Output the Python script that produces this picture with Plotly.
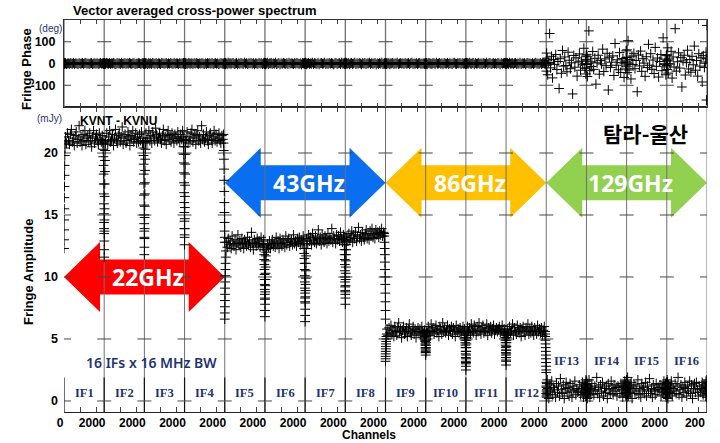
import plotly.graph_objects as go

# ---------------------------------------------------------------- data
IF_SPAN = 2500  # channel axis span allotted to each IF panel

# sampled channel positions inside every IF (amplitude: denser at the band edges)
AMP_CHANNELS = [0, 4, 8, 12, 17, 22, 28, 35, 43, 52, 62, 75,
                100, 160, 220, 280, 340, 400, 460, 520, 580, 640, 700, 760, 820, 880, 940, 1000,
                1060, 1120, 1180, 1240, 1300, 1360, 1420, 1480, 1540, 1600, 1660, 1720, 1780,
                1840, 1900, 1960, 2020, 2080, 2140, 2200, 2260, 2320, 2380, 2420,
                2425, 2438, 2448, 2457, 2465, 2472, 2478, 2484, 2489, 2493, 2497, 2500]
PH_CHANNELS = [0, 12, 25, 40, 60, 90, 150, 210, 270, 330, 390, 450, 520, 590, 660,
               730, 800, 870, 940, 1010, 1080, 1150, 1220, 1290, 1360, 1430, 1500,
               1570, 1640, 1710, 1780, 1850, 1920, 1990, 2060, 2130, 2200, 2270,
               2340, 2400, 2440, 2465, 2485, 2500]

IF_NAMES = ["IF1", "IF2", "IF3", "IF4", "IF5", "IF6", "IF7", "IF8",
            "IF9", "IF10", "IF11", "IF12", "IF13", "IF14", "IF15", "IF16"]

# fringe amplitude (mJy) per IF
AMP_IF1 = [12.3, 13.0, 13.8, 14.6, 15.5, 16.4, 17.3, 18.2, 19.0, 19.8, 20.4, 20.9,
           21.3, 20.8, 21.6, 21.0, 20.7, 21.5, 21.9, 20.9, 21.2, 20.6, 21.4, 21.7, 20.8, 21.1, 22.2, 20.9,
           21.3, 20.6, 21.5, 21.0, 21.8, 20.7, 21.2, 21.4, 20.9, 21.6, 21.0, 20.5, 21.3, 21.8, 20.8, 21.2,
           21.5, 21.0, 20.7, 21.6, 21.1, 20.9, 21.4, 21.0,
           20.8, 20.3, 19.7, 19.0, 18.3, 17.5, 16.7, 15.9, 15.1, 14.4, 13.9, 13.5]
AMP_IF2 = [11.6, 12.2, 12.9, 13.7, 14.6, 15.5, 16.5, 17.5, 18.5, 19.4, 20.2, 20.8,
           21.0, 21.6, 20.7, 21.3, 21.8, 20.9, 21.1, 21.5, 20.6, 21.2, 21.9, 21.0, 20.8, 21.4, 21.6, 20.9,
           21.3, 22.1, 20.7, 21.2, 21.5, 20.8, 21.0, 21.7, 21.3, 20.6, 21.4, 21.1, 21.8, 20.9, 21.2, 21.6,
           20.8, 21.3, 20.9, 21.5, 21.0, 21.7, 20.8, 21.2,
           20.9, 20.4, 19.8, 19.1, 18.3, 17.5, 16.6, 15.8, 15.0, 14.3, 13.7, 13.2]
AMP_IF3 = [11.8, 12.4, 13.1, 13.9, 14.8, 15.7, 16.7, 17.6, 18.6, 19.5, 20.3, 20.9,
           21.6, 20.9, 21.2, 21.8, 21.0, 21.4, 20.8, 21.7, 21.3, 21.0, 22.0, 21.5, 20.9, 21.2, 21.6, 21.1,
           20.8, 21.4, 21.9, 21.0, 21.3, 20.7, 21.5, 21.8, 21.1, 21.4, 20.9, 21.6, 21.2, 20.8, 21.5, 21.3,
           21.0, 21.7, 21.2, 20.9, 21.5, 21.1, 21.8, 21.3,
           21.0, 20.5, 19.9, 19.2, 18.4, 17.6, 16.8, 16.0, 15.2, 14.5, 13.9, 13.4]
AMP_IF4 = [12.6, 13.2, 13.9, 14.7, 15.6, 16.5, 17.4, 18.3, 19.1, 19.9, 20.5, 21.0,
           21.1, 21.7, 20.8, 21.3, 21.0, 21.6, 21.9, 20.9, 21.2, 21.5, 20.7, 21.4, 21.8, 21.0, 21.3, 20.8,
           22.2, 21.1, 21.5, 20.9, 21.2, 21.7, 21.0, 20.7, 21.4, 21.6, 21.1, 20.8, 21.3, 21.8, 21.0, 21.5,
           20.9, 21.2, 21.6, 21.0, 20.8, 21.4, 21.1, 21.5,
           20.8, 20.2, 19.5, 18.7, 17.8, 16.9, 16.0, 15.2, 14.4, 13.7, 13.2, 12.8]
AMP_IF5 = [6.6, 7.1, 7.6, 8.1, 8.6, 9.1, 9.6, 10.1, 10.6, 11.1, 11.6, 12.1,
           12.8, 12.4, 13.1, 12.6, 12.9, 12.3, 13.3, 12.7, 12.5, 13.0, 12.2, 12.8, 13.4, 12.6, 12.9, 12.4,
           13.1, 12.7, 12.3, 13.0, 12.8, 12.5, 13.2, 12.6, 12.9, 12.4, 13.6, 12.7, 12.2, 13.0, 12.8, 12.5,
           13.1, 12.6, 12.9, 12.4, 13.2, 12.7, 12.5, 13.0,
           12.6, 12.2, 11.8, 11.4, 11.0, 10.6, 10.2, 9.8, 9.4, 9.0, 8.6, 8.2]
AMP_IF6 = [6.8, 7.3, 7.8, 8.3, 8.8, 9.3, 9.8, 10.3, 10.8, 11.3, 11.7, 12.0,
           12.2, 12.6, 12.4, 12.9, 12.3, 12.7, 13.0, 12.5, 12.8, 12.4, 13.2, 12.6, 12.9, 12.3, 13.1, 12.7,
           12.5, 13.0, 12.8, 12.4, 13.3, 12.6, 12.9, 13.1, 12.5, 12.8, 13.0, 12.6, 13.4, 12.7, 12.9, 12.5,
           13.1, 12.8, 13.2, 12.6, 13.0, 12.7, 13.3, 12.9,
           12.7, 12.3, 11.9, 11.5, 11.1, 10.6, 10.1, 9.6, 9.1, 8.7, 8.3, 8.0]
AMP_IF7 = [6.4, 6.9, 7.4, 7.9, 8.4, 8.9, 9.4, 9.9, 10.5, 11.1, 11.7, 12.3,
           13.1, 12.7, 13.4, 12.9, 13.2, 12.6, 13.5, 13.0, 12.8, 13.3, 12.7, 13.1, 13.8, 12.9, 13.2, 12.6,
           13.4, 13.0, 12.8, 13.3, 13.1, 12.7, 13.5, 12.9, 13.2, 13.0, 13.9, 12.8, 13.3, 13.1, 12.7, 13.4,
           13.0, 13.3, 12.9, 13.6, 13.1, 12.8, 13.4, 13.2,
           13.0, 12.6, 12.2, 11.8, 11.4, 11.0, 10.5, 10.0, 9.6, 9.2, 8.9, 8.6]
AMP_IF8 = [7.8, 8.3, 8.8, 9.3, 9.8, 10.3, 10.8, 11.3, 11.8, 12.2, 12.6, 12.9,
           13.3, 12.9, 13.5, 13.0, 13.2, 13.7, 12.8, 13.4, 13.1, 13.6, 12.9, 13.3, 14.0, 13.1, 13.4, 12.9,
           13.6, 13.2, 13.0, 13.5, 13.8, 13.1, 13.4, 13.0, 13.7, 13.3, 13.9, 13.2, 13.5, 13.1, 13.8, 13.4,
           13.6, 13.2, 13.7, 13.4, 13.9, 13.3, 13.6, 13.5,
           13.3, 12.8, 12.3, 11.8, 11.2, 10.6, 10.0, 9.4, 8.7, 8.0, 7.3, 6.6]
AMP_IF9 = [3.2, 3.4, 3.6, 3.8, 4.0, 4.2, 4.4, 4.6, 4.8, 5.0, 5.2, 5.4,
           5.8, 5.3, 5.9, 5.5, 6.1, 5.4, 5.7, 5.2, 6.0, 5.6, 5.3, 5.9, 6.3, 5.5, 5.8, 5.1,
           5.7, 6.0, 5.4, 5.6, 5.9, 5.2, 5.8, 6.2, 5.5, 5.3, 5.7, 6.0, 5.4, 5.8, 5.1, 5.6,
           5.9, 5.5, 5.8, 5.3, 6.0, 5.6, 5.4, 5.7,
           5.5, 5.4, 5.2, 5.1, 4.9, 4.8, 4.6, 4.5, 4.3, 4.2, 4.0, 3.9]
AMP_IF10 = [3.7, 3.9, 4.1, 4.3, 4.5, 4.7, 4.9, 5.0, 5.2, 5.3, 5.5, 5.6,
            5.5, 6.0, 5.7, 5.3, 6.2, 5.6, 5.9, 5.4, 5.8, 6.1, 5.5, 5.7, 5.2, 6.0, 5.8, 5.4,
            6.3, 5.6, 5.9, 5.5, 5.7, 6.1, 5.3, 5.8, 5.6, 6.0, 5.4, 5.9, 5.7, 5.2, 6.1, 5.6,
            5.8, 5.5, 5.9, 5.4, 5.7, 6.0, 5.6, 5.8,
            5.5, 5.3, 5.1, 4.9, 4.7, 4.5, 4.3, 4.0, 3.8, 3.5, 3.2, 3.0]
AMP_IF11 = [2.5, 2.8, 3.1, 3.4, 3.7, 4.0, 4.3, 4.6, 4.9, 5.1, 5.3, 5.5,
            6.0, 5.6, 5.9, 5.4, 6.2, 5.7, 5.5, 6.1, 5.8, 5.3, 6.0, 5.6, 6.3, 5.7, 5.4, 5.9,
            6.1, 5.5, 5.8, 5.6, 6.2, 5.3, 5.9, 5.7, 6.0, 5.5, 5.8, 6.1, 5.4, 5.7, 5.9, 5.6,
            5.8, 6.0, 5.5, 5.7, 6.1, 5.4, 5.8, 5.6,
            5.5, 5.3, 5.1, 4.9, 4.7, 4.5, 4.3, 4.1, 3.9, 3.7, 3.5, 3.3]
AMP_IF12 = [2.9, 3.2, 3.5, 3.8, 4.1, 4.4, 4.7, 4.9, 5.1, 5.3, 5.4, 5.5,
            5.8, 5.4, 6.0, 5.5, 5.7, 6.2, 5.3, 5.9, 5.6, 5.4, 6.1, 5.7, 5.5, 5.9, 5.2, 5.8,
            6.0, 5.6, 5.3, 5.9, 5.7, 6.2, 5.4, 5.8, 5.5, 6.0, 5.6, 5.3, 5.9, 5.7, 5.4, 6.1,
            5.6, 5.8, 5.5, 5.9, 5.3, 5.7, 6.0, 5.6,
            5.4, 5.2, 4.9, 4.6, 4.3, 4.0, 3.7, 3.4, 3.1, 2.8, 2.5, 2.3]
AMP_IF13 = [0.6, 1.2, 0.4, 1.5, 0.8, 1.1, 0.3, 1.4, 0.9, 0.5, 1.7, 0.7, 1.0, 0.2, 1.3, 0.8,
            1.6, 0.5, 1.1, 0.9, 0.3, 1.4, 0.7, 1.2, 0.4, 1.8, 0.9, 0.6, 1.3, 0.2, 1.0, 1.5,
            0.7, 1.1, 0.4, 1.4, 0.8, 0.3, 1.2, 0.9, 1.6, 0.5, 1.0, 0.7, 0.8, 1.3, 0.5, 1.0,
            1.5, 0.3, 1.2, 0.9, 0.6, 1.4, 1.1, 0.4, 1.7, 0.8, 1.0, 0.5, 1.3, 0.7, 1.2, 0.9]
AMP_IF14 = [1.0, 0.5, 1.3, 0.8, 1.6, 0.4, 1.1, 0.7, 1.4, 0.2, 0.9, 1.2, 0.6, 1.7, 0.3, 1.0,
            1.4, 0.8, 0.5, 1.2, 0.9, 1.9, 0.6, 1.1, 0.3, 1.3, 0.8, 1.5, 0.4, 1.0, 0.7, 1.2,
            0.2, 1.4, 0.9, 0.6, 1.6, 1.0, 0.5, 1.3, 0.8, 1.1, 0.4, 1.2, 1.1, 0.6, 1.4, 0.9,
            0.3, 1.2, 1.6, 0.7, 1.0, 0.5, 1.3, 0.8, 1.5, 0.4, 1.1, 0.9, 1.7, 0.6, 1.0, 1.2]
AMP_IF15 = [0.7, 1.3, 0.5, 1.0, 1.6, 0.3, 1.2, 0.8, 1.4, 0.6, 1.9, 0.9, 0.4, 1.1, 0.7, 1.5,
            0.2, 1.0, 1.3, 0.6, 1.2, 0.8, 1.7, 0.5, 1.0, 0.3, 1.4, 0.9, 1.1, 0.6, 1.5, 0.4,
            1.2, 0.8, 1.8, 0.6, 1.0, 0.3, 1.3, 0.9, 0.5, 1.4, 0.8, 1.1, 0.9, 1.3, 0.4, 1.1,
            0.7, 1.6, 1.0, 0.5, 1.4, 0.8, 1.2, 0.3, 1.0, 1.5, 0.6, 1.1, 0.9, 1.3, 0.7, 1.0]
AMP_IF16 = [1.1, 0.6, 1.4, 0.3, 1.0, 1.7, 0.8, 1.2, 0.5, 1.5, 0.9, 0.2, 1.3, 0.7, 1.1, 1.6,
            0.4, 1.0, 0.8, 1.4, 0.6, 1.2, 1.9, 0.5, 0.9, 1.3, 0.3, 1.1, 0.7, 1.5, 1.0, 0.4,
            1.2, 0.8, 1.6, 0.6, 1.3, 0.2, 1.0, 1.4, 0.7, 1.5, 0.9, 0.4, 1.2, 0.7, 1.0, 1.5,
            0.5, 1.3, 0.8, 1.1, 0.4, 1.6, 0.9, 1.2, 0.6, 1.4, 1.0, 0.3, 1.1, 1.7, 0.8, 1.0]

# fringe phase (deg) per IF
PH_IF1 = [1, -2, 0, 3, -1, 2, -3, 0, 1, -2, 2, 0, -1, 3, -2, 1, 0, -3, 2, -1, 0, 2, -2, 1, 3, -1, 0, -2, 1, 2,
          -3, 0, 1, -1, 2, -2, 0, 3, -1, 1, 0, -2, 2, -1]
PH_IF2 = [-1, 2, 0, -3, 1, -2, 3, 0, -1, 2, -2, 1, 0, 3, -1, -3, 2, 0, 1, -2, 3, -1, 0, 2, -2, 1, -1, 3, 0, -2,
          1, 2, -3, 0, -1, 2, 1, -2, 0, 3, -1, 1, -2, 0]
PH_IF3 = [0, 3, -2, 1, -1, 2, 0, -3, 2, -1, 1, -2, 3, 0, -1, 2, -2, 1, 0, -3, 2, 1, -1, 0, 3, -2, 1, -1, 2, 0,
          -2, 3, -1, 1, 0, -2, 2, -1, 1, 0, 3, -2, 0, 1]
PH_IF4 = [2, -1, 0, 1, -3, 2, -2, 0, 3, -1, 0, 1, -2, 2, -1, 3, 0, -2, 1, -1, 2, 0, -3, 1, -2, 2, 0, 1, -1, 3,
          -2, 0, 2, -1, 1, -3, 0, 2, -1, 1, -2, 0, 1, -1]
PH_IF5 = [3, -2, 1, -4, 2, 0, -3, 4, -1, 2, -2, 1, 3, -3, 0, 2, -4, 1, -1, 3, 0, -2, 4, -1, 2, -3, 1, 0, 3, -2,
          2, -4, 1, 0, -2, 3, -1, 2, -3, 1, 0, 4, -2, 1]
PH_IF6 = [-2, 3, 0, -4, 2, -1, 4, -3, 1, 0, 3, -2, 1, -1, 4, -3, 0, 2, -4, 1, -1, 3, 0, -2, 2, -3, 4, -1, 1, 0,
          -3, 2, -1, 3, 0, -2, 1, -4, 2, 0, 3, -1, 1, -2]
PH_IF7 = [1, -3, 4, -1, 2, -4, 0, 3, -2, 1, -1, 4, -3, 2, 0, -2, 3, -4, 1, 2, -1, 0, 4, -3, 1, -2, 3, -1, 2, 0,
          -4, 1, 3, -2, 0, 2, -3, 4, -1, 1, -2, 3, 0, -1]
PH_IF8 = [-3, 1, 4, -2, 0, 3, -1, 2, -4, 1, 3, -2, 0, 4, -3, 1, -1, 2, 0, -4, 2, -1, 3, -3, 1, 0, 4, -2, 2, -1,
          0, 3, -4, 1, -2, 2, -1, 4, -3, 0, 1, -2, 3, -1]
PH_IF9 = [2, -3, 1, 0, -2, 3, -1, 2, -4, 1, 0, 3, -2, 1, -1, 4, -3, 0, 2, -1, 1, -2, 3, -1, 0, 2, -3, 1, 4, -2,
          0, -1, 2, -3, 1, 3, -2, 0, -1, 2, -3, 1, 0, 2]
PH_IF10 = [-1, 3, -2, 0, 2, -4, 1, 3, -1, 0, -3, 2, 1, -2, 4, -1, 0, 3, -2, 1, -4, 2, 0, -1, 3, -2, 1, 0, -3, 2,
           4, -1, -2, 1, 0, 3, -3, 2, -1, 1, 0, -2, 3, -1]
PH_IF11 = [0, -2, 3, 1, -3, 2, -1, 4, 0, -2, 1, 3, -4, 2, -1, 0, 3, -2, 1, -3, 2, 0, -1, 4, -2, 1, 3, -3, 0, 2,
           -1, 1, -2, 3, 0, -4, 2, -1, 1, 3, -2, 0, 2, -1]
PH_IF12 = [3, -1, 0, -3, 2, 1, -2, 4, -1, 0, 2, -3, 1, 3, -2, 0, -1, 4, -3, 1, 0, 2, -4, 1, 3, -1, 0, -2, 2, -3,
           1, 4, -1, 0, -2, 3, -3, 1, 2, -1, 0, -2, 1, 3]
PH_IF13 = [12, -35, 48, -8, 25, -52, 5, 138, -20, 33, -66, 18, -4, 41, -28, 9, -115, 22, -45, 60,
           -12, 30, -9, -38, 52, 15, -24, 3, -140, 37, -17, 26, -58, 7, 44, -31, 11, -6, 70, -22,
           19, -48, 35, -3]
PH_IF14 = [-20, 42, -5, 31, -60, 16, 150, -33, 8, -14, 55, -27, 24, -95, 3, 38, -49, 13, -2, 66,
           -37, 21, -10, 47, -122, 29, -18, 6, 35, -55, 92, -8, 17, -29, 50, -41, 4, 23, -64, 11,
           -25, 58, -7, 28]
PH_IF15 = [28, -15, 63, -42, 6, 105, -30, 19, -71, 34, -5, 47, -24, 14, -130, 39, -11, 57, -36, 22,
           2, -59, 31, -19, 88, -8, 45, -27, 16, -46, 74, -13, 25, -62, 9, 41, -33, 118, -4, 20,
           -52, 36, -16, 11]
PH_IF16 = [-9, 40, -28, 15, 72, -44, 21, -3, 56, -67, 30, -16, 160, -35, 8, 49, -21, 27, -108, 12,
           38, -53, 4, 61, -25, 18, -40, 33, -6, 80, -31, 14, -58, 45, -12, 26, -85, 36, -18, 7,
           52, -168, 22, 175]

AMP = [AMP_IF1, AMP_IF2, AMP_IF3, AMP_IF4, AMP_IF5, AMP_IF6, AMP_IF7, AMP_IF8,
       AMP_IF9, AMP_IF10, AMP_IF11, AMP_IF12, AMP_IF13, AMP_IF14, AMP_IF15, AMP_IF16]
PHASE = [PH_IF1, PH_IF2, PH_IF3, PH_IF4, PH_IF5, PH_IF6, PH_IF7, PH_IF8,
         PH_IF9, PH_IF10, PH_IF11, PH_IF12, PH_IF13, PH_IF14, PH_IF15, PH_IF16]

# observing bands: label and the IFs they cover
BAND_LABELS = ["22GHz", "43GHz", "86GHz", "129GHz"]
BAND_FIRST_IF = [0, 4, 8, 12]
BAND_LAST_IF = [3, 7, 11, 15]

AMP_TICKS = [0, 5, 10, 15, 20]
PHASE_TICKS = [-100, 0, 100]
PHASE_TICK_TEXT = ["-100", "0", "100"]
CHAN_MINOR = 1000
CHAN_MAJOR = 2000

# ---------------------------------------------------------------- styling
N_IF = len(AMP)
X_MAX = N_IF * IF_SPAN
AMP_RANGE = [-0.89, 23.71]
PH_RANGE = [-200, 200]
BAND_COLORS = ["#FF0000", "#0A6EF0", "#FFC000", "#92D050"]
BAND_ARROW_Y = [10.0, 17.6, 17.6, 17.6]
ARROW_HEAD_LEN = 2240      # channels
ARROW_HEAD_HALF = 2.82     # mJy
ARROW_SHAFT_HALF = 1.42    # mJy
NAVY = "#1F3370"
LINE_GREY = "#707070"
SANS = "Liberation Sans"

# plot-area pixel frame (used to place free text)
PX_L, PX_R, PX_T, PX_B = 64, 707, 20, 412


def fx(px):
    return (px - PX_L) / (PX_R - PX_L)


def fy(py):
    return (PX_B - py) / (PX_B - PX_T)


# ---------------------------------------------------------------- traces
amp_x, amp_y, ph_x, ph_y = [], [], [], []
for k in range(N_IF):
    for c, a in zip(AMP_CHANNELS, AMP[k]):
        amp_x.append(k * IF_SPAN + c)
        amp_y.append(a)
    for c, p in zip(PH_CHANNELS, PHASE[k]):
        ph_x.append(k * IF_SPAN + c)
        ph_y.append(p)

cross = dict(symbol="cross-thin", size=7, color="black", line=dict(width=1, color="black"))

boundaries = [k * IF_SPAN for k in range(N_IF + 1)]

fig = go.Figure()

# tick crosses on every IF boundary
fig.add_trace(go.Scatter(
    x=[b for b in boundaries for _ in AMP_TICKS], y=[t for _ in boundaries for t in AMP_TICKS],
    mode="markers", xaxis="x", yaxis="y", hoverinfo="skip", showlegend=False,
    marker=dict(symbol="line-ew", size=10, line=dict(width=1, color="#444"))))
fig.add_trace(go.Scatter(
    x=[b for b in boundaries for _ in PHASE_TICKS], y=[t for _ in boundaries for t in PHASE_TICKS],
    mode="markers", xaxis="x2", yaxis="y2", hoverinfo="skip", showlegend=False,
    marker=dict(symbol="line-ew", size=10, line=dict(width=1, color="#444"))))

fig.add_trace(go.Scatter(x=amp_x, y=amp_y, mode="markers", xaxis="x", yaxis="y",
                         marker=cross, showlegend=False, name="Amplitude"))
fig.add_trace(go.Scatter(x=ph_x, y=ph_y, mode="markers", xaxis="x2", yaxis="y2",
                         marker=cross, showlegend=False, name="Phase"))

# ---------------------------------------------------------------- shapes
shapes = []
for label, i0, i1, col, ay in zip(BAND_LABELS, BAND_FIRST_IF, BAND_LAST_IF, BAND_COLORS, BAND_ARROW_Y):
    lx, rx = i0 * IF_SPAN, (i1 + 1) * IF_SPAN
    hl, hh, sh = ARROW_HEAD_LEN, ARROW_HEAD_HALF, ARROW_SHAFT_HALF
    pts = [(lx, ay), (lx + hl, ay + hh), (lx + hl, ay + sh), (rx - hl, ay + sh), (rx - hl, ay + hh),
           (rx, ay), (rx - hl, ay - hh), (rx - hl, ay - sh), (lx + hl, ay - sh), (lx + hl, ay - hh)]
    path = "M " + " L ".join(f"{px},{py}" for px, py in pts) + " Z"
    shapes.append(dict(type="path", path=path, xref="x", yref="y", fillcolor=col,
                       line=dict(width=0), layer="below"))

for b in boundaries[1:]:
    shapes.append(dict(type="line", xref="x", yref="y", x0=b, x1=b, y0=AMP_RANGE[0], y1=AMP_RANGE[1],
                       line=dict(color=LINE_GREY, width=1), layer="below"))
for b in boundaries:
    shapes.append(dict(type="line", xref="x2", yref="y2", x0=b, x1=b, y0=PH_RANGE[0], y1=PH_RANGE[1],
                       line=dict(color=LINE_GREY, width=1.3), layer="below"))
    shapes.append(dict(type="line", xref="x", yref="y", x0=b, x1=b, y0=AMP_RANGE[0], y1=1.9,
                       line=dict(color="#111", width=1.2), layer="below"))

# ---------------------------------------------------------------- annotations
ann = []


def text(x, y, s, size, color="black", family=SANS, weight="bold", xanchor="center", angle=0,
         xref="paper", yref="paper", xshift=0, yanchor="middle"):
    ann.append(dict(x=x, y=y, xref=xref, yref=yref, text=s, showarrow=False, xanchor=xanchor,
                    yanchor=yanchor, textangle=angle, xshift=xshift, borderpad=0,
                    font=dict(family=family, size=size, color=color, weight=weight)))


text(fx(72), fy(11), "Vector averaged cross-power spectrum", 13, xanchor="left")
text(fx(26), fy(69), "Fringe Phase", 13, angle=-90)
text(fx(28), fy(272), "Fringe Amplitude", 13, angle=-90)
text(fx(50), fy(28), "(deg)", 10, color=NAVY, weight="normal")
text(fx(49), fy(118), "(mJy)", 10, color=NAVY, weight="normal")
text(fx(369), fy(443), "Channels", 12, yanchor="bottom")
text(fx(118), fy(121), "KVNT - KVNU", 12)
text(fx(645), fy(133), "탐라-울산", 21, family="Noto Sans CJK KR")
text(fx(151), fy(362), "16 IFs x 16 MHz BW", 14, color=NAVY, family="Noto Sans", weight=600)

for label, i0, i1, ay in zip(BAND_LABELS, BAND_FIRST_IF, BAND_LAST_IF, BAND_ARROW_Y):
    text((i0 + i1 + 1) * IF_SPAN / 2, ay, label, 23, color="white", family="Noto Sans",
         xref="x", yref="y", xshift=4)

for k, name in enumerate(IF_NAMES):
    ypx = 393 if k < 12 else 361
    text((k + 0.5) * IF_SPAN, fy(ypx), name, 12.5, color=NAVY, family="Liberation Serif",
         xref="x", yref="paper")

# ---------------------------------------------------------------- axes
tickvals = [0]
ticktext = ["0"]
for k in range(N_IF):
    tickvals += [k * IF_SPAN + CHAN_MINOR, k * IF_SPAN + CHAN_MAJOR]
    ticktext += ["", "2000" if k < N_IF - 1 else "200"]

split = (PX_B - 107) / (PX_B - PX_T)
tickfont = dict(family=SANS, size=12.5, color="black", weight="bold")
xtickfont = dict(family=SANS, size=12, color="black", weight="bold")

fig.update_layout(
    width=720, height=443,
    margin=dict(l=PX_L, r=720 - PX_R, t=PX_T, b=443 - PX_B),
    paper_bgcolor="white", plot_bgcolor="white",
    shapes=shapes, annotations=ann, showlegend=False,
    xaxis=dict(domain=[0, 1], range=[0, X_MAX], anchor="y", showline=True, linecolor="#222",
               linewidth=1, mirror="ticks", ticks="inside", ticklen=5, tickcolor="#444",
               tickvals=tickvals, ticktext=ticktext, tickfont=xtickfont, showgrid=False,
               zeroline=False, ticklabelshift=-4, ticklabelstandoff=0),
    xaxis2=dict(domain=[0, 1], range=[0, X_MAX], anchor="y2", matches="x", showline=True,
                linecolor="#333", mirror="ticks", ticks="inside", ticklen=4, tickcolor="#444",
                tickvals=tickvals, showticklabels=False, showgrid=False, zeroline=False),
    yaxis=dict(domain=[0, split], range=AMP_RANGE, anchor="x", tickvals=AMP_TICKS, ticks="",
               showline=False, showgrid=False, zeroline=False, tickfont=tickfont,
               ticklabelstandoff=5),
    yaxis2=dict(domain=[split, 1], range=PH_RANGE, anchor="x2", tickvals=PHASE_TICKS,
                ticktext=PHASE_TICK_TEXT, ticks="", showline=True, mirror=True, linecolor="#333",
                showgrid=False, zeroline=False, tickfont=tickfont, ticklabelstandoff=5),
)

fig.write_html("out.html")
